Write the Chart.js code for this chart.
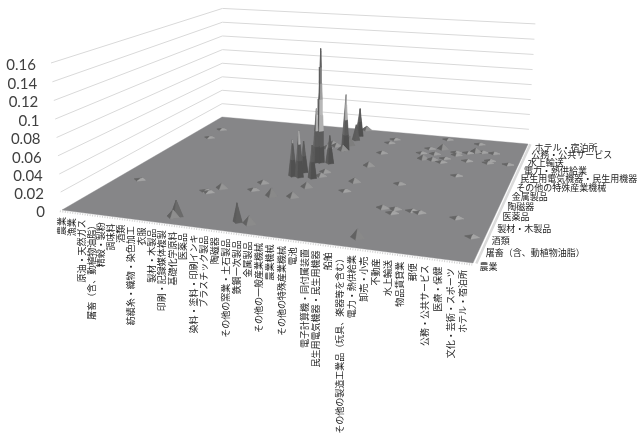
<!DOCTYPE html>
<html>
<head>
<meta charset="utf-8">
<style>
  html, body { margin: 0; background: #fff; }
  canvas { display: block; filter: blur(0.4px); }
</style>
<script src="https://cdn.jsdelivr.net/npm/chart.js@4"></script>
</head>
<body>
<canvas id="myChart" width="638" height="435"></canvas>
<script>
// 前後の軸のカテゴリ (37)
const categories = ['農業', '漁業', '原油・天然ガス', '屠畜（含、動植物油脂）', '精穀・製粉', '調味料', '酒類',
  '紡績糸・織物・染色加工', '衣服', '製材・木製品', '印刷・記録媒体複製', '基礎化学原料', '医薬品',
  '染料・塗料・印刷インキ', 'プラスチック製品', '陶磁器', 'その他の窯業・土石製品', '鉄鋼一次製品', '金属製品',
  'その他の一般産業機械', '農業機械', 'その他の特殊産業機械', '電池', '電子計算機・同付属装置',
  '民生用電気機器・民生用機器', '船舶', 'その他の製造工業品（玩具、楽器等を含む）', '電力・熱供給業', '卸売・小売',
  '不動産', '水上輸送', '物品賃貸業', '郵便', '公務・公共サービス', '医療・保健', '文化・芸術・スポーツ', 'ホテル・宿泊所'];
// 奥行き軸は3つおきにラベル
const rowLabelStep = 3;
const zTicks = [0, 0.02, 0.04, 0.06, 0.08, 0.1, 0.12, 0.14, 0.16];

// 山の位置と高さ
const spikeCol = [15.8, 16.5, 16.4, 16.5, 16.9, 17.8, 17.9, 18.0, 17.9, 18.0, 17.9, 18.0, 16.0, 16.1, 16.7, 17.8, 18.4, 18.4, 18.2, 16.0, 17.9, 10.8, 13.9, 13.8, 9.7, 10.1, 15.7, 16.8, 10.2, 10.0, 26.3, 21.9, 22.0, 26.2, 21.9, 26.4, 27.5, 27.5, 29.0, 29.7, 33.0, 35.0, 22.0, 21.8, 22.0, 26.4, 27.7, 25.9, 27.3, 26.5, 27.5, 28.6, 28.5, 29.3, 29.5, 30.5, 31.2, 31.9, 33.1, 31.1, 27.5, 30.9, 33.1, 33.0, 35.0, 30.8, 2.3, 2.4, 2.3];
const spikeRow = [16.4, 16.3, 18.0, 21.7, 21.8, 16.4, 21.8, 27.1, 33.1, 31.3, 29.1, 35.9, 27.1, 28.9, 28.2, 26.9, 18.7, 17.3, 13.5, 9.9, 10.3, 10.5, 13.3, 11.0, 9.2, 9.0, 2.4, 2.3, 2.0, 1.7, 2.2, 22.2, 16.6, 17.4, 13.6, 10.1, 10.2, 9.1, 10.2, 10.0, 9.7, 5.6, 33.0, 31.4, 27.2, 30.6, 30.9, 28.6, 28.7, 26.5, 26.5, 27.4, 26.0, 30.0, 29.1, 30.3, 30.9, 31.0, 31.0, 34.1, 34.9, 27.3, 28.1, 27.3, 27.4, 21.9, 30.5, 26.8, 10.3];
const spikeValue = [0.044, 0.056, 0.038, 0.068, 0.143, 0.04, 0.035, 0.073, 0.038, 0.021, 0.0122, 0.0057, 0.004, 0.0041, 0.0041, 0.0067, 0.0037, 0.0037, 0.006, 0.0093, 0.0058, 0.0059, 0.0036, 0.0024, 0.0012, 0.0012, 0.0205, 0.0086, 0.0175, 0.0077, 0.0093, 0.0051, 0.0048, 0.0024, 0.0018, 0.0034, 0.0022, 0.0011, 0.0011, 0.0011, 0.0011, 0.001, 0.0014, 0.0014, 0.0026, 0.0013, 0.0067, 0.0013, 0.0026, 0.0052, 0.0032, 0.0013, 0.0013, 0.002, 0.0026, 0.0013, 0.0053, 0.002, 0.002, 0.0014, 0.0007, 0.0006, 0.0013, 0.0013, 0.0006, 0.0006, 0.0014, 0.0014, 0.0006];

const N = categories.length - 1;
const Z_MAX = zTicks[zTicks.length - 1];
const BAND = 0.02;

// 床の射影（四隅から求めた係数）
function project(col, row, z) {
  const u = col / N, v = row / N, t = z / Z_MAX;
  const w = -0.1351 * u + 0.3674 * v + 1 - 0.027 * t;
  const x = 347.1 * u + 241.6 * v + 62 + (-12.4 + 7 * v) * t;
  const y = 17.5 * u - 50 * v + 210 - 148.7 * t;
  return { x: x / w, y: y / w };
}

const gray = v => { const c = Math.round(v); return `rgb(${c},${c},${c})`; };
const leftBand = [0x5a, 0x66, 0x5c, 0x58, 0x50, 0x4c, 0x4a, 0x4a];
const rightBand = [0x50, 0x5c, 0xb0, 0xb8, 0xa0, 0x80, 0x62, 0x62];

function polygon(points, color) {
  return {
    data: points.concat([points[0]]),
    fill: 'shape',
    backgroundColor: color,
    borderColor: color,
    borderWidth: 0.4,
    pointRadius: 0,
    tension: 0,
    clip: false
  };
}

function line(points, color, width, dash) {
  return {
    data: points,
    fill: false,
    borderColor: color,
    borderWidth: width,
    borderDash: dash || [],
    pointRadius: 0,
    tension: 0,
    clip: false
  };
}

const painted = [];

// 壁の目盛線
zTicks.slice(1).forEach(z => {
  painted.push(line([project(0, 0, z), project(0, N, z), project(N, N, z)], '#d9d9d9', 1));
});

// 床
painted.push(polygon([project(0, 0, 0), project(N, 0, 0), project(N, N, 0), project(0, N, 0)], '#868688'));
painted.push(line([project(0, -0.35, 0), project(N, -0.35, 0)], '#d2d2d2', 2, [1, 1.5]));
painted.push(line([project(N + 0.25, 0, 0), project(N + 0.25, N, 0)], '#dadada', 2.5));

// 山: 奥から順に
function face(col, row, value, ax, ay, bx, by, shades, steep) {
  const floor = Math.floor(value / BAND - 1e-9);
  for (let b = 0; b <= floor; b++) {
    const f0 = b * BAND / value;
    const f1 = Math.min((b + 1) * BAND / value, 1);
    const at = (dx, dy, f) => project(col + dx * (1 - f), row + dy * (1 - f), value * f);
    const base = shades.low + (shades.band[b] - shades.low) * steep;
    painted.push(polygon([at(ax, ay, f0), at(bx, by, f0), at(bx, by, f1), at(ax, ay, f1)], gray(base)));
  }
}

spikeValue
  .map((value, i) => ({ value, col: spikeCol[i], row: spikeRow[i] }))
  .sort((p, q) => q.row - p.row || p.col - q.col)
  .forEach(s => {
    // 高い山は細く、低い山は裾を広く
    const K = s.value > 0.02 ? 0.42 : 0.6;
    const steep = Math.min(s.value / 0.025, 1);
    const left = { low: 0x66, band: leftBand };
    const right = { low: 0xaa, band: rightBand };
    face(s.col, s.row, s.value, -K, 0, 0, K, left, steep);
    face(s.col, s.row, s.value, 0, K, K, 0, right, steep);
    face(s.col, s.row, s.value, -K, 0, 0, -K, left, steep);
    face(s.col, s.row, s.value, 0, -K, K, 0, right, steep);
  });

// テキストはプラグインで
const axisText = {
  id: 'axisText',
  afterDatasetsDraw(chart) {
    const { ctx } = chart;
    ctx.save();
    ctx.fillStyle = '#404040';
    ctx.font = '15px Lato';
    ctx.textAlign = 'right';
    ctx.textBaseline = 'middle';
    zTicks.forEach(z => {
      const p = project(0, 0, z);
      ctx.fillText(String(z), p.x - 15 - 2 * (1 - z / Z_MAX), p.y + 2);
    });

    ctx.fillStyle = '#222';
    ctx.font = '9px "Noto Sans CJK JP"';
    categories.forEach((name, i) => {
      const p = project(i, 0, 0);
      ctx.save();
      ctx.translate(p.x - 10 * i / N, p.y + 7);
      ctx.rotate(-Math.PI / 2);
      ctx.textAlign = 'right';
      ctx.fillText(name, 0, 0);
      ctx.restore();
    });

    ctx.textAlign = 'left';
    categories.forEach((name, i) => {
      if (i % rowLabelStep !== 0) return;
      const p = project(N, i, 0);
      ctx.fillText(name, p.x + 6.5, p.y + 3.5);
    });
    ctx.restore();
  }
};

window.myChart = new Chart(document.getElementById('myChart').getContext('2d'), {
  type: 'line',
  data: { datasets: painted.slice().reverse() },
  options: {
    responsive: false,
    animation: false,
    events: [],
    layout: { padding: 0 },
    plugins: { legend: { display: false }, tooltip: { enabled: false } },
    scales: {
      x: { type: 'linear', min: 0, max: 638, display: false },
      y: { type: 'linear', min: 0, max: 435, reverse: true, display: false }
    }
  },
  plugins: [axisText]
});
</script>
</body>
</html>
